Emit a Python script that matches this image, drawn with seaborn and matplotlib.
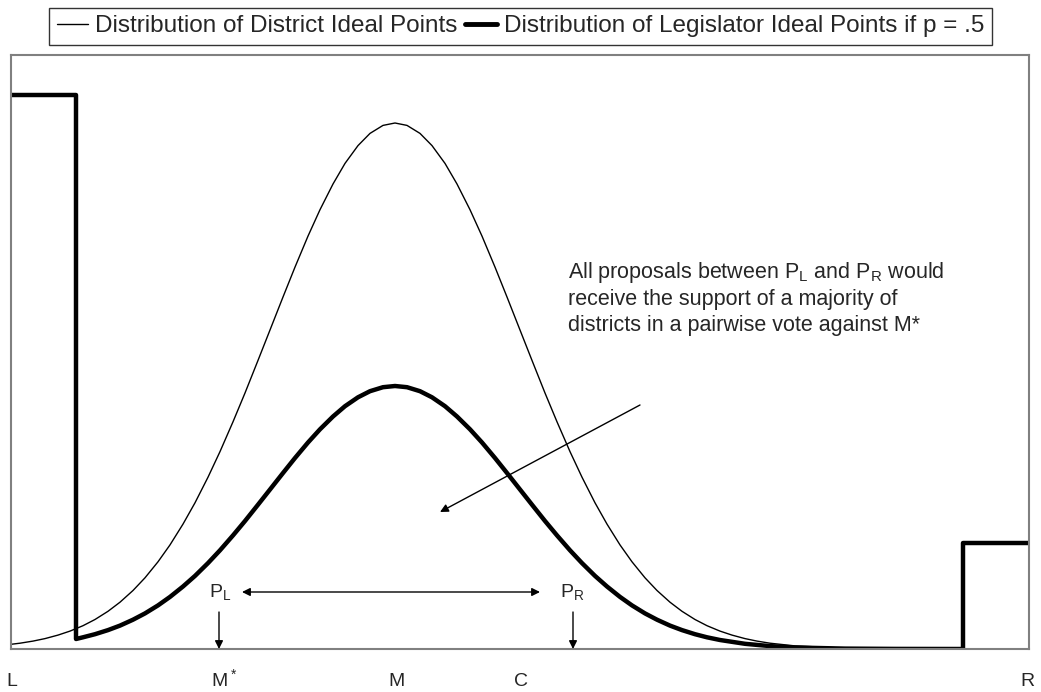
import matplotlib
matplotlib.use('Agg')
import matplotlib.pyplot as plt
import seaborn as sns
import pandas as pd
from matplotlib.lines import Line2D

# positions along the policy space (pixels from L) and density height (pixels above the floor)
district_x = [0, 9, 22, 34, 47, 59, 72, 84, 97, 109, 122, 134, 147, 159, 172, 184, 197, 209,
              222, 234, 247, 259, 272, 284, 297, 309, 322, 334, 347, 359, 372, 384,
              396, 409, 421, 434, 446, 459, 471, 484, 496, 509, 521, 534, 546, 559, 571, 584,
              596, 609, 621, 634, 646, 659, 671, 684, 696, 709, 721, 734, 746, 759, 784,
              834, 884, 951, 1018]
district_y = [4.7, 5.8, 7.9, 10.4, 13.9, 17.9, 23.3, 29.5, 37.7, 46.8, 58.5, 71.2, 87.2, 104.1,
              124.9, 146.2, 171.8, 197.4, 227.2, 256.0, 288.6, 319.0, 352.0, 381.9, 412.9,
              439.3, 465.0, 485.6, 503.4, 515.6, 523.6, 526.0,
              523.6, 515.6, 503.4, 485.6, 465.0, 439.3, 412.9, 381.9, 352.0, 319.0, 288.6,
              256.0, 227.2, 197.4, 171.8, 146.2, 124.9, 104.1, 87.2, 71.2, 58.5, 46.8, 37.7,
              29.5, 23.3, 17.9, 13.9, 10.4, 7.9, 5.8, 3.1, 0.8, 0.2, 0.0, 0.0]

legislator_x = [0, 65, 65, 72, 84, 97, 109, 122, 134, 147, 159, 172, 184, 197, 209, 222, 234,
                247, 259, 272, 284, 297, 309, 322, 334, 347, 359, 372, 384,
                396, 409, 421, 434, 446, 459, 471, 484, 496, 509, 521, 534, 546, 559, 571, 584,
                596, 609, 621, 634, 646, 659, 671, 684, 696, 709, 734, 759, 784, 834, 884,
                952, 952, 1018]
legislator_y = [554, 554, 10.0, 11.7, 14.8, 18.9, 23.4, 29.3, 35.6, 43.6, 52.1, 62.5, 73.1,
                85.9, 98.7, 113.6, 128.0, 144.3, 159.5, 176.0, 191.0, 206.5, 219.7, 232.5,
                242.8, 251.7, 257.8, 261.8, 263.0,
                261.8, 257.8, 251.7, 242.8, 232.5, 219.7, 206.5, 191.0, 176.0, 159.5, 144.3,
                128.0, 113.6, 98.7, 85.9, 73.1, 62.5, 52.1, 43.6, 35.6, 29.3, 23.4, 18.9, 14.8,
                11.7, 9.0, 5.2, 2.9, 1.5, 0.4, 0.1, 0.0, 106, 106]

tick_pos = [1, 213, 386, 510, 1016]
tick_labels = ['L', 'M$^*$', 'M', 'C', 'R']

legend_labels = ['Distribution of District Ideal Points',
                 'Distribution of Legislator Ideal Points if p = .5']
note = ('All proposals between P$_\\mathregular{L}$ and P$_\\mathregular{R}$ would\n'
        'receive the support of a majority of\n'
        'districts in a pairwise vote against M*')

sns.set_style('white')
plt.rcParams['font.family'] = ['Liberation Sans', 'DejaVu Sans']
plt.rcParams['mathtext.default'] = 'regular'

fig = plt.figure(figsize=(10.41, 6.92), dpi=100)
ax = fig.add_axes([11 / 1041, 43 / 692, 1018 / 1041, 594 / 692])

district = pd.DataFrame({'x': district_x, 'y': district_y})
legislator = pd.DataFrame({'x': legislator_x, 'y': legislator_y})
sns.lineplot(data=district, x='x', y='y', sort=False, estimator=None, color='black',
             linewidth=1.0, ax=ax)
sns.lineplot(data=legislator, x='x', y='y', sort=False, estimator=None, color='black',
             linewidth=3.2, ax=ax)

ax.set_xlim(0, 1018)
ax.set_ylim(0, 594)
ax.set_xlabel('')
ax.set_ylabel('')
ax.set_yticks([])
ax.set_xticks(tick_pos)
ax.set_xticklabels(tick_labels, fontsize=14, va='baseline')
ax.tick_params(axis='x', length=0, pad=27)
for s in ax.spines.values():
    s.set_color('#808080')
    s.set_linewidth(1.5)

# P_L / P_R markers
arrow_kw = dict(arrowstyle='-|>', color='black', lw=1.0, mutation_scale=12, shrinkA=0, shrinkB=0)
ax.annotate('', xy=(208, 0), xytext=(208, 37), arrowprops=arrow_kw)
ax.annotate('', xy=(562, 0), xytext=(562, 37), arrowprops=arrow_kw)
ax.annotate('', xy=(231, 57), xytext=(529, 57),
            arrowprops=dict(arrowstyle='<|-|>', color='black', lw=1.0, mutation_scale=12,
                            shrinkA=0, shrinkB=0))
ax.text(209, 57, 'P$_\\mathregular{L}$', fontsize=14, ha='center', va='center')
ax.text(561, 57, 'P$_\\mathregular{R}$', fontsize=14, ha='center', va='center')

ax.text(557, 389, note, fontsize=15.5, ha='left', va='top', linespacing=1.27)
ax.annotate('', xy=(429, 137), xytext=(629, 244),
            arrowprops=dict(arrowstyle='-|>', color='black', lw=1.0, mutation_scale=12,
                            shrinkA=0, shrinkB=0))

handles = [Line2D([], [], color='black', lw=1.0), Line2D([], [], color='black', lw=3.5)]
leg = fig.legend(handles, legend_labels, loc='upper center', ncol=2,
                 bbox_to_anchor=(520.5 / 1041, 1 - 8 / 692), frameon=True, fancybox=False,
                 edgecolor='black', fontsize=17.5, handlelength=1.3, handletextpad=0.3,
                 columnspacing=0.3, borderpad=0.3, borderaxespad=0)
leg.get_frame().set_linewidth(1.0)

fig.savefig('out.png', dpi=100)
